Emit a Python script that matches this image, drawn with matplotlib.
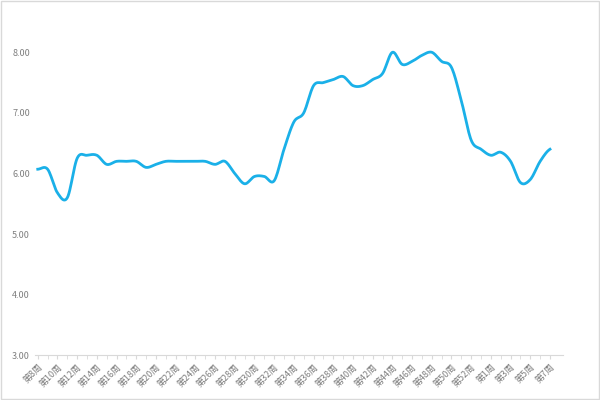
import matplotlib.pyplot as plt
import numpy as np

plt.rcParams['font.family'] = ['Noto Sans CJK SC', 'DejaVu Sans']

weeks = [f"第{w}周" for w in list(range(8, 54)) + list(range(1, 8))]
values = [6.07, 6.07, 5.68, 5.6, 6.25, 6.3, 6.3, 6.15, 6.2, 6.2,
          6.2, 6.1, 6.15, 6.2, 6.2, 6.2, 6.2, 6.2, 6.15, 6.2,
          6.0, 5.83, 5.95, 5.95, 5.88, 6.4, 6.85, 7.0, 7.45, 7.5,
          7.55, 7.6, 7.45, 7.45, 7.55, 7.65, 8.0, 7.8, 7.85, 7.95,
          8.0, 7.85, 7.75, 7.2, 6.55, 6.4, 6.3, 6.35, 6.2, 5.85,
          5.9, 6.2, 6.4]


def smooth(y, n=12):
    # catmull-rom through the points
    p = np.concatenate([[y[0]], y, [y[-1]]])
    xs, ys = [], []
    t = np.linspace(0, 1, n, endpoint=False)
    for i in range(1, len(p) - 2):
        p0, p1, p2, p3 = p[i - 1], p[i], p[i + 1], p[i + 2]
        seg = 0.5 * (2 * p1 + (-p0 + p2) * t + (2 * p0 - 5 * p1 + 4 * p2 - p3) * t ** 2
                     + (-p0 + 3 * p1 - 3 * p2 + p3) * t ** 3)
        xs.extend(i - 1 + t)
        ys.extend(seg)
    xs.append(len(y) - 1)
    ys.append(y[-1])
    return np.array(xs), np.array(ys)


fig = plt.figure(figsize=(6, 4), dpi=100)
ax = fig.add_axes([0.058, 0.112, 0.88, 0.833])
sx, sy = smooth(np.array(values))
ax.plot(sx, sy, color='#1ab0e8', linewidth=2)

ax.set_ylim(3, 8.5)
ax.set_yticks([3, 4, 5, 6, 7, 8])
ax.set_yticklabels([f"{v:.2f}" for v in [3, 4, 5, 6, 7, 8]])
ax.set_xlim(-0.3, len(values) - 0.7 + 1)
ax.set_xticks(range(len(values)), minor=True)
ax.set_xticks(range(0, len(values), 2))
ax.set_xticklabels(weeks[::2], rotation=45, ha='right', rotation_mode='anchor')
ax.tick_params(axis='both', labelsize=6.5, colors='#7f7f7f', length=0)
ax.tick_params(axis='x', which='both', length=3, color='#d9d9d9', pad=2)
for s in ['top', 'right', 'left']:
    ax.spines[s].set_visible(False)
ax.spines['bottom'].set_color('#d9d9d9')

fig.patches.append(plt.Rectangle((0.002, 0.002), 0.996, 0.996, transform=fig.transFigure,
                                 fill=False, edgecolor='#d9d9d9', linewidth=1))
fig.savefig('out.png')
